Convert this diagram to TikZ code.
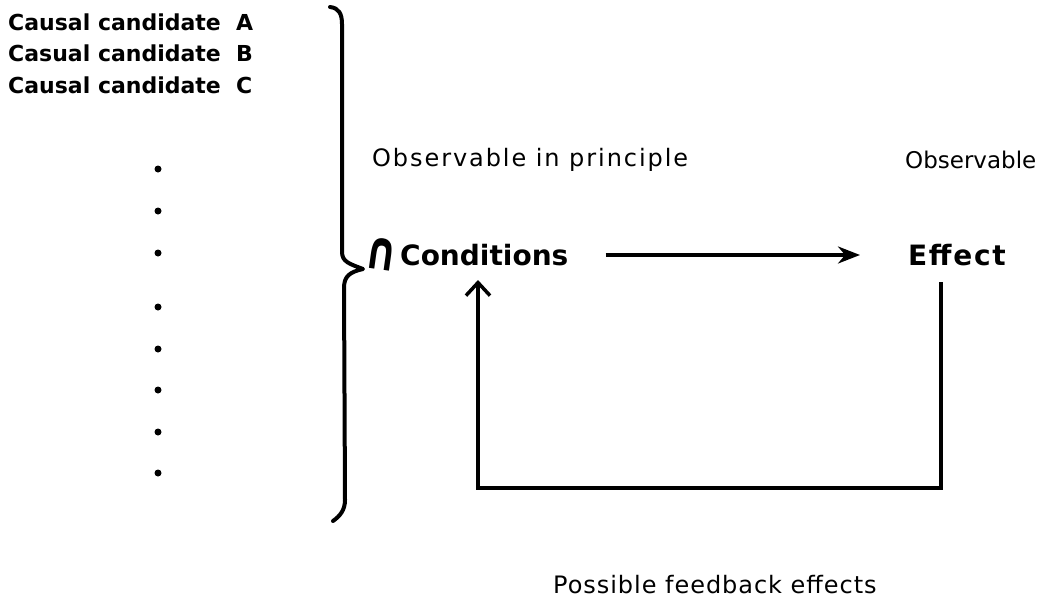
\documentclass[tikz,border=0pt]{standalone}
\usepackage{fontspec}
\setmainfont{DejaVu Sans}
\usetikzlibrary{arrows.meta}
\begin{document}
\begin{tikzpicture}[x=1pt,y=-1pt,
  candlbl/.style={font=\fontsize{22}{26}\selectfont\bfseries, inner sep=0pt, anchor=west},
  boldlbl/.style={font=\fontsize{28}{32}\selectfont\bfseries, inner sep=0pt, anchor=west},
  plainlbl/.style={font=\fontsize{24}{28}\selectfont, inner sep=0pt, anchor=west},
  dotmark/.style={circle, fill=black, inner sep=0pt, minimum size=7pt},
  thick line/.style={line width=3.5pt},
]
\useasboundingbox (0,0) rectangle (1045,605);
\node[candlbl] (ca) at (8,22) {Causal candidate\ \ A};
\node[candlbl] (cb) at (8,53) {Casual candidate\ \ B};
\node[candlbl] (cc) at (8,85) {Causal candidate\ \ C};
\foreach \y [count=\i] in {169,211,253,307,349,390,432,473}
  \node[dotmark] (d\i) at (158,\y) {};
% brace
\draw[line width=4pt, line cap=round, line join=round]
  (330,7) .. controls (339,8) and (342,14) .. (342,24)
  -- (342,252) .. controls (342,262) and (350,264) .. (363,269)
  .. controls (350,272) and (344,276) .. (344,288)
  -- (345,500) .. controls (345,510) and (340,516) .. (333,521);
\node[plainlbl, font=\fontsize{24}{28}\selectfont\addfontfeature{LetterSpace=8}] (oip) at (372,160) {Observable in principle};
\node[plainlbl, font=\fontsize{23}{28}\selectfont] (obs) at (905,160) {Observable};
\node[font=\fontsize{36}{38}\selectfont\bfseries, inner sep=0pt, rotate=-8] (cap) at (382,254) {\scalebox{1.1}[1.5]{∩}};
\node[boldlbl] (cond) at (400,255) {Conditions};
\node[boldlbl, font=\fontsize{28}{32}\selectfont\bfseries\addfontfeature{LetterSpace=6}] (eff) at (908,255) {Effect};
\path (cond.east) ++(37,0) coordinate (arS);
\path (eff.west) ++(-48,0) coordinate (arE);
\draw[thick line, -{Stealth[length=22pt,width=17pt]}] (arS) -- (arE);
\coordinate (fbE) at (941,282);
\coordinate (fbL) at (478,488);
\coordinate (fbC) at (478,280);
\draw[thick line, -{Straight Barb[length=13pt,width=24pt,line width=3.5pt]}] (fbE) |- (fbL) -- (fbC);
\node[plainlbl, font=\fontsize{24}{28}\selectfont\addfontfeature{LetterSpace=4}] (pfe) at (553,585) {Possible feedback effects};
\end{tikzpicture}
\end{document}
